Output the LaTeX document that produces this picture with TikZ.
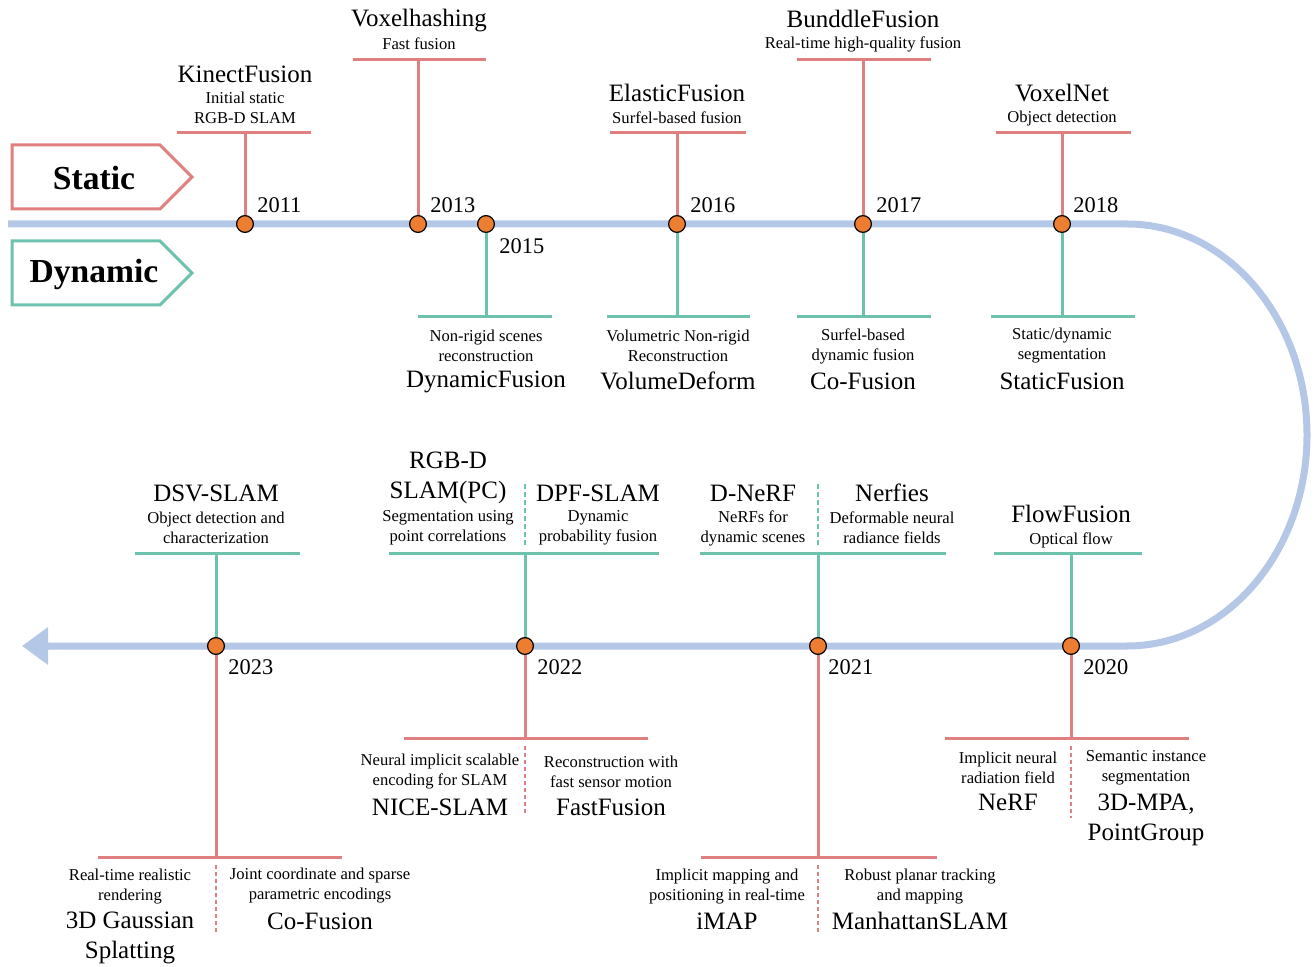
\documentclass[tikz,border=0pt]{standalone}
\usepackage{fontspec}
\setmainfont{Liberation Serif}
\usepackage{xcolor}
\usepackage{tikz}
\usetikzlibrary{arrows.meta}
\definecolor{statred}{HTML}{DF7F7F}
\definecolor{dyngreen}{HTML}{6DC2AE}
\definecolor{lineblue}{HTML}{B4C7E7}
\definecolor{dotorange}{HTML}{ED7D31}

\begin{document}
\begin{tikzpicture}[x=0.5pt,y=-0.5pt,
  tl/.style={draw=lineblue,line width=3.5pt},
  dot/.style={circle,fill=dotorange,draw=black,line width=0.6pt,minimum size=8.4pt,inner sep=0pt},
  stat/.style={draw=statred,line width=1.5pt},
  dyn/.style={draw=dyngreen,line width=1.5pt},
  sdash/.style={draw=statred,line width=1pt,dash pattern=on 2pt off 1.5pt},
  ddash/.style={draw=dyngreen,line width=1.3pt,dash pattern=on 2.5pt off 1.5pt},
  tag/.style={line width=1.5pt,fill=white},
  ttl/.style={font=\fontsize{12.5}{15}\selectfont,align=center,inner sep=0pt},
  dsc/.style={font=\fontsize{8.3}{10}\selectfont,align=center,inner sep=0pt},
  yr/.style={font=\fontsize{11.2}{13}\selectfont,anchor=west,inner sep=0pt},
  lbl/.style={font=\fontsize{16.8}{20}\selectfont\bfseries,inner sep=0pt}]
\useasboundingbox (0,0) rectangle (1315,967);
% timeline
\draw[tl,-{Triangle[length=13pt,width=18pt]}] (8,224) -- (1127,224)
  arc[start angle=-90,end angle=90,x radius=180,y radius=211] -- (22,646);
% category tags
\draw[tag,draw=statred] (12,145) -- (160,145) -- (192,177) -- (160,209) -- (12,209) -- cycle;
\node[lbl] (static) at (94,178) {Static};
\draw[tag,draw=dyngreen] (12,241) -- (160,241) -- (192,273) -- (160,305) -- (12,305) -- cycle;
\node[lbl] (dynamic) at (94,274) {Dynamic};
% points in time
\node[dot] (p2011) at (245,224) {};
\node[dot] (p2013) at (418,224) {};
\node[dot] (p2015) at (486,224) {};
\node[dot] (p2016) at (677,224) {};
\node[dot] (p2017) at (863,224) {};
\node[dot] (p2018) at (1062,224) {};
\node[dot] (p2023) at (216,646) {};
\node[dot] (p2022) at (525,646) {};
\node[dot] (p2021) at (818,646) {};
\node[dot] (p2020) at (1071,646) {};
\node[yr] at (257,205) {2011};
\node[yr] at (430,205) {2013};
\node[yr] at (499,246) {2015};
\node[yr] at (690,205) {2016};
\node[yr] at (876,205) {2017};
\node[yr] at (1073,205) {2018};
\node[yr] at (228,667) {2023};
\node[yr] at (537,667) {2022};
\node[yr] at (828,667) {2021};
\node[yr] at (1083,667) {2020};
% 2011
\draw[stat] (p2011) -- (p2011 |- 0,133);
\draw[stat] (177,133) -- (311,133);
\node[ttl] (kinect) at (245,74) {KinectFusion};
\node[dsc] (kinectdsc) at (245,108) {Initial static\\RGB-D SLAM};
% 2013
\draw[stat] (p2013) -- (p2013 |- 0,60);
\draw[stat] (353,60) -- (486,60);
\node[ttl] (voxhash) at (419,21) {Voxelhashing};
\node[dsc] (voxhashdsc) at (419,44) {Fast fusion};
% 2015
\draw[dyn] (p2015) -- (p2015 |- 0,317);
\draw[dyn] (418,317) -- (552,317);
\node[dsc] (dynfusdsc) at (486,346) {Non-rigid scenes\\reconstruction};
\node[ttl] (dynfus) at (486,382) {DynamicFusion};
% 2016
\draw[stat] (p2016) -- (p2016 |- 0,133);
\draw[stat] (610,133) -- (746,133);
\node[ttl] (elastic) at (677,93) {ElasticFusion};
\node[dsc] (elasticdsc) at (677,118) {Surfel-based fusion};
\draw[dyn] (p2016) -- (p2016 |- 0,317);
\draw[dyn] (607,317) -- (750,317);
\node[dsc] (voldefdsc) at (678,346) {Volumetric Non-rigid\\Reconstruction};
\node[ttl] (voldef) at (678,381) {VolumeDeform};
% 2017
\draw[stat] (p2017) -- (p2017 |- 0,60);
\draw[stat] (797,60) -- (931,60);
\node[ttl] (bundle) at (863,19) {BunddleFusion};
\node[dsc] (bundledsc) at (863,44) {Real-time high-quality fusion};
\draw[dyn] (p2017) -- (p2017 |- 0,317);
\draw[dyn] (797,317) -- (931,317);
\node[dsc] (cofusdsc) at (863,346) {Surfel-based\\dynamic fusion};
\node[ttl] (cofus) at (863,381) {Co-Fusion};
% 2018
\draw[stat] (p2018) -- (p2018 |- 0,133);
\draw[stat] (996,133) -- (1131,133);
\node[ttl] (voxnet) at (1062,93) {VoxelNet};
\node[dsc] (voxnetdsc) at (1062,119) {Object detection};
\draw[dyn] (p2018) -- (p2018 |- 0,317);
\draw[dyn] (991,317) -- (1135,317);
\node[dsc] (statfusdsc) at (1062,346) {Static/dynamic\\segmentation};
\node[ttl] (statfus) at (1062,381) {StaticFusion};
% 2020
\draw[dyn] (p2020) -- (p2020 |- 0,553);
\draw[dyn] (994,553) -- (1142,553);
\node[ttl] (flowfus) at (1071,514) {FlowFusion};
\node[dsc] (flowfusdsc) at (1071,540) {Optical flow};
\draw[stat] (p2020) -- (p2020 |- 0,738);
\draw[stat] (945,738) -- (1189,738);
\draw[sdash] (1071,746) -- (1071,818);
\node[dsc] (nerfdsc) at (1008,768) {Implicit neural\\radiation field};
\node[ttl] (nerf) at (1008,802) {NeRF};
\node[dsc] (mpadsc) at (1146,768) {Semantic instance\\segmentation};
\node[ttl] (mpa) at (1146,820) {3D-MPA,\\PointGroup};
% 2021
\draw[dyn] (p2021) -- (p2021 |- 0,553);
\draw[dyn] (700,553) -- (946,553);
\draw[ddash] (818,484) -- (818,545);
\node[ttl] (dnerf) at (753,493) {D-NeRF};
\node[dsc] (dnerfdsc) at (753,528) {NeRFs for\\dynamic scenes};
\node[ttl] (nerfies) at (892,493) {Nerfies};
\node[dsc] (nerfiesdsc) at (892,528) {Deformable neural\\radiance fields};
\draw[stat] (p2021) -- (p2021 |- 0,857);
\draw[stat] (701,857) -- (937,857);
\draw[sdash] (818,865) -- (818,935);
\node[dsc] (imapdsc) at (727,887) {Implicit mapping and\\positioning in real-time};
\node[ttl] (imap) at (727,921) {iMAP};
\node[dsc] (manhdsc) at (920,887) {Robust planar tracking\\and mapping};
\node[ttl] (manh) at (920,921) {ManhattanSLAM};
% 2022
\draw[dyn] (p2022) -- (p2022 |- 0,553);
\draw[dyn] (389,553) -- (659,553);
\draw[ddash] (525,484) -- (525,545);
\node[ttl] (rgbdpc) at (448,478) {RGB-D\\SLAM(PC)};
\node[dsc] (rgbdpcdsc) at (448,528) {Segmentation using\\point correlations};
\node[ttl] (dpf) at (598,493) {DPF-SLAM};
\node[dsc] (dpfdsc) at (598,528) {Dynamic\\probability fusion};
\draw[stat] (p2022) -- (p2022 |- 0,738);
\draw[stat] (404,738) -- (648,738);
\draw[sdash] (525,746) -- (525,815);
\node[dsc] (nicedsc) at (440,772) {Neural implicit scalable\\encoding for SLAM};
\node[ttl] (nice) at (440,807) {NICE-SLAM};
\node[dsc] (fastfusdsc) at (611,772) {Reconstruction with\\fast sensor motion};
\node[ttl] (fastfus) at (611,807) {FastFusion};
% 2023
\draw[dyn] (p2023) -- (p2023 |- 0,553);
\draw[dyn] (135,553) -- (300,553);
\node[ttl] (dsv) at (216,493) {DSV-SLAM};
\node[dsc] (dsvdsc) at (216,528) {Object detection and\\characterization};
\draw[stat] (p2023) -- (p2023 |- 0,857);
\draw[stat] (98,857) -- (342,857);
\draw[sdash] (216,865) -- (216,935);
\node[dsc] (gaussdsc) at (130,887) {Real-time realistic\\rendering};
\node[ttl] (gauss) at (130,938) {3D Gaussian\\Splatting};
\node[dsc] (cofus2dsc) at (320,886) {Joint coordinate and sparse\\parametric encodings};
\node[ttl] (cofus2) at (320,921) {Co-Fusion};
\end{tikzpicture}
\end{document}
